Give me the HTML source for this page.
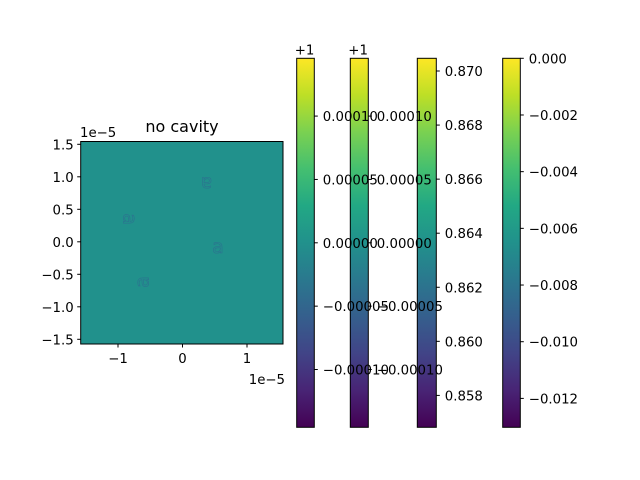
<!DOCTYPE html>
<html><head><meta charset="utf-8"><style>
html,body{margin:0;padding:0;background:#fff;}
svg{display:block;font-family:"DejaVu Sans","Liberation Sans",sans-serif;}
</style></head><body>
<svg id="fig" width="640" height="480" viewBox="0 0 640 480" xmlns="http://www.w3.org/2000/svg">
<defs>
<linearGradient id="viridis" x1="0" y1="1" x2="0" y2="0">
<stop offset="0" stop-color="#440154"/><stop offset="0.1" stop-color="#482475"/><stop offset="0.2" stop-color="#414487"/><stop offset="0.3" stop-color="#355f8d"/><stop offset="0.4" stop-color="#2a788e"/><stop offset="0.5" stop-color="#21918c"/><stop offset="0.6" stop-color="#22a884"/><stop offset="0.7" stop-color="#44bf70"/><stop offset="0.8" stop-color="#7ad151"/><stop offset="0.9" stop-color="#bddf26"/><stop offset="1" stop-color="#fde725"/>
</linearGradient>
</defs>
<g id="main"></g>
<g id="cbars"></g>
<g id="cblabels"></g>
</svg>
<script>
const NS="http://www.w3.org/2000/svg";
const xTicks=[-1,0,1];
const yTicks=[-1.5,-1.0,-0.5,0.0,0.5,1.0,1.5];
const markerX=[0.37,-0.82,0.55,-0.62];
const markerY=[0.9,0.35,-0.08,-0.62];
const markerRot=[180,90,0,-90];
const cb1Ticks=[0.0001,0.00005,0.0,-0.00005,-0.0001];
const cb1Labels=["0.00010","0.00005","0.00000","\u22120.00005","\u22120.00010"];
const cb2Labels=["0.00010","0.00005","0.00000","\u22120.00005","\u22120.00010"];
const cb3Ticks=[0.870,0.868,0.866,0.864,0.862,0.860,0.858];
const cb4Ticks=[0.000,-0.002,-0.004,-0.006,-0.008,-0.010,-0.012];

const FS=13.3;
function el(tag,attrs,parent,txt){const e=document.createElementNS(NS,tag);for(const k in attrs)e.setAttribute(k,attrs[k]);if(txt!==undefined)e.textContent=txt;parent.appendChild(e);return e;}
const main=document.getElementById('main');
const L=80.7,R=283,T=141.5,B=344;
const xs=v=>182.5+v*64.5;
const ys=v=>241.8-v*65;
const bg=el('rect',{x:L,y:T,width:R-L,height:B-T,fill:'#21918c'},main);


markerX.forEach((mx,i)=>{
  const t=el('text',{x:0,y:0,'font-size':19,fill:'#21918c',stroke:'#2c7290','stroke-width':0.6,'text-anchor':'middle','dominant-baseline':'central',transform:`translate(${xs(mx)},${ys(markerY[i])}) rotate(${markerRot[i]})`},main,'a');
  
  
});
const fr=el('rect',{x:L,y:T,width:R-L,height:B-T,fill:'none',stroke:'#000','stroke-width':1},main);


xTicks.forEach(v=>{
  el('line',{x1:xs(v),x2:xs(v),y1:B,y2:B+3.5,stroke:'#000'},main);
  const t=el('text',{x:xs(v),y:B+19,'font-size':FS,'text-anchor':'middle'},main,v<0?'\u2212'+(-v):String(v));
  
  
});
yTicks.forEach(v=>{
  el('line',{x1:L,x2:L-3.5,y1:ys(v),y2:ys(v),stroke:'#000'},main);
  const t=el('text',{x:L-7,y:ys(v)+5,'font-size':FS,'text-anchor':'end'},main,(v<0?'\u2212':'')+Math.abs(v).toFixed(1));
  
  
});
let t=el('text',{x:182,y:132,'font-size':16,'text-anchor':'middle'},main,'no cavity');


t=el('text',{x:80,y:137,'font-size':FS},main,'1e\u22125');


t=el('text',{x:285,y:384,'font-size':FS,'text-anchor':'end'},main,'1e\u22125');



const cb=document.getElementById('cbars');
const cbl=document.getElementById('cblabels');
const cT=58.3,cB=427.3;
function colorbar(name,x0,x1,vmin,vmax,ticks,labels,offset){
  const g=el('g',{},cb);
  
  
  el('rect',{x:x0,y:cT,width:x1-x0,height:cB-cT,fill:'url(#viridis)',stroke:'#000','stroke-width':1},g);
  const sc=v=>cB-(v-vmin)/(vmax-vmin)*(cB-cT);
  ticks.forEach((v,i)=>{
    el('line',{x1:x1,x2:x1+3.5,y1:sc(v),y2:sc(v),stroke:'#000'},g);
    const tt=el('text',{x:x1+8.5,y:sc(v)+5,'font-size':FS},cbl,labels[i]);
    
    
  });
  if(offset){const o=el('text',{x:x0-2,y:cT-4,'font-size':FS},cbl,offset);
    
    }
}
colorbar('colorbar-1',296.7,314.3,-1.456e-4,1.456e-4,cb1Ticks,cb1Labels,'+1');
colorbar('colorbar-2',350.3,368.3,-1.456e-4,1.456e-4,cb1Ticks,cb2Labels,'+1');
colorbar('colorbar-3',417.3,436.3,0.85682,0.87047,cb3Ticks,cb3Ticks.map(v=>v.toFixed(3)));
colorbar('colorbar-4',502.7,520.3,-0.01302,0,cb4Ticks,cb4Ticks.map(v=>(v<0?'\u2212':'')+Math.abs(v).toFixed(3)));
</script>
</body></html>
